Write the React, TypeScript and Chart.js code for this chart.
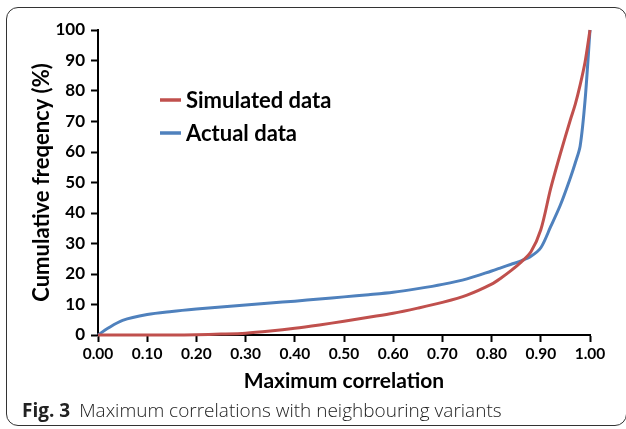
import React, { useEffect, useRef } from "react";
import { Chart, registerables } from "chart.js";

Chart.register(...registerables);

const xValues = [0, 0.02, 0.05, 0.1, 0.15, 0.2, 0.25, 0.3, 0.35, 0.4, 0.45, 0.5, 0.55, 0.6, 0.65, 0.7, 0.75, 0.8, 0.82, 0.84, 0.86, 0.88, 0.9, 0.92, 0.94, 0.96, 0.97, 0.98, 0.99, 1.0];
const simulated = [0, 0, 0, 0, 0, 0.1, 0.3, 0.6, 1.3, 2.2, 3.3, 4.5, 5.8, 7.1, 8.8, 10.7, 13.1, 16.7, 18.8, 21.2, 23.9, 27.3, 34.5, 48.0, 59.6, 70.5, 75.6, 82.0, 89.5, 100];
const actual = [0, 2.2, 4.8, 6.7, 7.7, 8.5, 9.2, 9.8, 10.5, 11.1, 11.8, 12.5, 13.2, 14.0, 15.2, 16.6, 18.4, 21.0, 22.1, 23.2, 24.3, 25.8, 28.6, 35.5, 42.7, 51.5, 56.4, 62.0, 77.0, 100];
const seriesLabels = ["Simulated data", "Actual data"];
const seriesColors = ["#C0504D", "#4F81BD"];
const yTicks = [0, 10, 20, 30, 40, 50, 60, 70, 80, 90, 100];
const xTickStep = 0.1;

const legendPlugin = {
  id: "insideLegend",
  afterDraw(chart: any) {
    const ctx = chart.ctx;
    ctx.save();
    chart.data.datasets.forEach((ds: any, i: number) => {
      const y = 100 + i * 33;
      ctx.strokeStyle = ds.borderColor;
      ctx.lineWidth = 3.5;
      ctx.beginPath();
      ctx.moveTo(160, y);
      ctx.lineTo(181, y);
      ctx.stroke();
      ctx.fillStyle = "#000";
      ctx.font = "bold 22px Lato";
      ctx.textBaseline = "middle";
      ctx.textAlign = "left";
      ctx.fillText(ds.label, 186, y + 1);
    });
    ctx.restore();
  },
};

export default function App() {
  const ref = useRef<HTMLCanvasElement | null>(null);
  useEffect(() => {
    if (!ref.current) return;
    const mk = (vals: number[]) => xValues.map((x, i) => ({ x, y: vals[i] }));
    const chart = new Chart(ref.current, {
      type: "line",
      data: {
        datasets: [
          { label: seriesLabels[0], data: mk(simulated), borderColor: seriesColors[0], backgroundColor: seriesColors[0], borderWidth: 3, pointRadius: 0, tension: 0.3, clip: false },
          { label: seriesLabels[1], data: mk(actual), borderColor: seriesColors[1], backgroundColor: seriesColors[1], borderWidth: 3, pointRadius: 0, tension: 0.3, clip: false },
        ],
      },
      options: {
        responsive: false,
        animation: false,
        devicePixelRatio: 1,
        layout: { padding: { top: 30, right: 36, bottom: 0, left: 0 } },
        plugins: { legend: { display: false }, tooltip: { enabled: false } },
        scales: {
          x: {
            type: "linear",
            min: 0,
            max: 1,
            afterFit: (s: any) => { s.height = 65; },
            afterBuildTicks: (s: any) => {
              s.ticks = Array.from({ length: 11 }, (_, i) => ({ value: +(i * xTickStep).toFixed(2) }));
            },
            ticks: { color: "#000", font: { family: "Lato", weight: "bold", size: 15.5 }, padding: 3, maxRotation: 0, callback: (v: any) => Number(v).toFixed(2) },
            grid: { drawOnChartArea: false, drawTicks: true, tickLength: 7, tickColor: "#000", tickWidth: 2, color: "#000" },
            border: { color: "#000", width: 2 },
            title: { display: true, text: "Maximum correlation", color: "#000", font: { family: "Lato", weight: "bold", size: 21 }, padding: { top: 0, bottom: 6 } },
          },
          y: {
            min: 0,
            max: 100,
            afterFit: (s: any) => { s.width = 98; },
            afterBuildTicks: (s: any) => { s.ticks = yTicks.map((v) => ({ value: v })); },
            ticks: { color: "#000", font: { family: "Lato", weight: "bold", size: 17 }, padding: 6 },
            grid: { drawOnChartArea: false, drawTicks: true, tickLength: 7, tickColor: "#000", tickWidth: 2, color: "#000" },
            border: { color: "#000", width: 2 },
            title: { display: true, text: "Cumulative freqency (%)", color: "#000", font: { family: "Lato", weight: "bold", size: 22 }, padding: { top: 29, bottom: 0 } },
          },
        },
      },
      plugins: [legendPlugin],
    } as any);
    return () => chart.destroy();
  }, []);

  return (
    <>
      <div style={{ position: "absolute", left: 6, top: 7, width: 621, height: 419, border: "1.3px solid #333", borderRadius: 12, boxSizing: "border-box" }} />
      <canvas ref={ref} width={626} height={400} style={{ position: "absolute", left: 0, top: 0, width: 626, height: 400 }} />
      <div style={{ position: "absolute", left: 22, top: 397, fontFamily: "'Open Sans', sans-serif", fontSize: 19, color: "#222", whiteSpace: "nowrap", lineHeight: "26px" }}>
        <b style={{ fontWeight: 700 }}>Fig. 3</b>
        <span style={{ fontWeight: 300, marginLeft: 9 }}>Maximum correlations with neighbouring variants</span>
      </div>
    </>
  );
}
